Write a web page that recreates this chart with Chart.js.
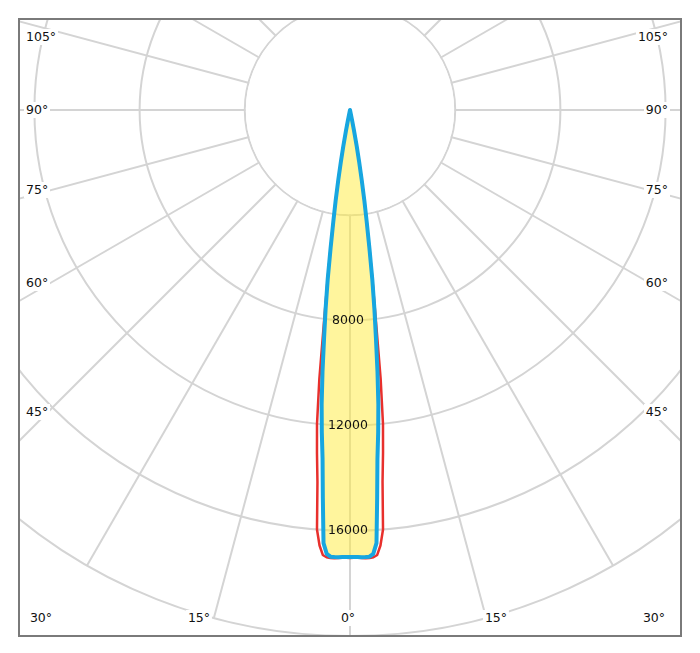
<!DOCTYPE html>
<html>
<head>
<meta charset="utf-8">
<script src="https://cdn.jsdelivr.net/npm/chart.js@4"></script>
<style>
  body { margin: 0; background: #fff; font-family: "DejaVu Sans", Verdana, sans-serif; }
  #frame {
    position: absolute; left: 18px; top: 18px; width: 664px; height: 619px;
    box-sizing: border-box; border: 2px solid #7a7a7a; overflow: hidden; background: #fff;
  }
  #polar { position: absolute; left: -196px; top: -436px; }
  .ang {
    position: absolute; font-size: 12.5px; line-height: 14px; color: #111;
    background: #fff; padding: 1px 2px; white-space: nowrap;
  }
  .bot { transform: translateX(-50%); }
</style>
</head>
<body>
<div id="frame">
  <canvas id="polar" width="1052" height="1052"></canvas>
</div>
<div id="labels"></div>
<script>
// half profile, angle from nadir in degrees (0.5 deg steps)
const halfAngles = [0, 0.5, 1, 1.5, 2, 2.5, 3, 3.5, 4, 4.5, 5, 5.5, 6, 6.5, 7, 7.5, 8, 8.5, 9, 9.5, 10, 10.5, 11, 11.5, 12, 12.5];
// C90-C270 plane (blue, filled)
const blueCd = [17000, 17000, 17000, 17010, 17010, 17000, 16900, 16500, 14800, 13300, 12300, 11250, 10000, 8700, 7600, 6500, 5300, 4300, 3500, 2700, 2000, 1400, 800, 400, 100, 0];
// C0-C180 plane (red)
const redCd = [17030, 17030, 17030, 17040, 17050, 17050, 17030, 16950, 16600, 16000, 14200, 13100, 12000, 10300, 8100, 6600, 5300, 4300, 3500, 2700, 2000, 1400, 800, 400, 100, 0];
const tickValues = [8000, 12000, 16000];
const maxCd = 20000;

// angle labels on the frame
const leftLabels = [['105°', 37], ['90°', 110], ['75°', 190], ['60°', 283], ['45°', 412]];
const bottomLabels = [['30°', 41], ['15°', 199], ['0°', 348], ['15°', 496], ['30°', 654]];

// full circle of 0.5 deg steps, symmetric about the nadir
const step = 0.5;
const labels = [];
const blueFull = [];
const redFull = [];
for (let i = 0; i < 360 / step; i++) {
    const a = i * step;
    const d = Math.min(a, 360 - a);
    const k = halfAngles.indexOf(d);
    labels.push(a + '°');
    blueFull.push(k >= 0 ? blueCd[k] : 0);
    redFull.push(k >= 0 ? redCd[k] : 0);
}

const extras = {
    id: 'extras',
    beforeDatasetsDraw(chart) {
        // no radial lines inside the first circle
        const s = chart.scales.r;
        const c = chart.ctx;
        const rr = s.getDistanceFromCenterForValue(4000);
        c.save();
        c.fillStyle = '#fff';
        c.beginPath();
        c.arc(s.xCenter, s.yCenter, rr - 1, 0, Math.PI * 2);
        c.fill();
        c.restore();
    },
    afterDatasetsDraw(chart) {
        const s = chart.scales.r;
        const c = chart.ctx;
        c.save();
        c.font = '12.5px "DejaVu Sans", Verdana, sans-serif';
        c.fillStyle = '#111';
        c.textAlign = 'center';
        c.textBaseline = 'middle';
        tickValues.forEach(v => {
            c.fillText(String(v), s.xCenter - 2, s.yCenter + s.getDistanceFromCenterForValue(v));
        });
        c.restore();
    }
};

new Chart(document.getElementById('polar'), {
    type: 'radar',
    data: {
        labels: labels,
        datasets: [{
            label: 'C90-C270',
            data: blueFull,
            borderColor: '#17a6e0',
            borderWidth: 4,
            backgroundColor: 'rgba(255, 236, 60, 0.5)',
            fill: 'origin',
            pointRadius: 0,
            borderJoinStyle: 'round',
            tension: 0
        }, {
            label: 'C0-C180',
            data: redFull,
            borderColor: '#e8302c',
            borderWidth: 2.5,
            fill: false,
            pointRadius: 0,
            borderJoinStyle: 'round',
            tension: 0
        }]
    },
    options: {
        responsive: false,
        animation: false,
        devicePixelRatio: 1,
        layout: { padding: 0 },
        plugins: {
            legend: { display: false },
            tooltip: { enabled: false }
        },
        scales: {
            r: {
                min: 0,
                max: maxCd,
                startAngle: 180,
                ticks: { stepSize: 4000, display: false },
                pointLabels: { display: false },
                grid: { circular: true, color: '#d4d4d4', lineWidth: 2 },
                angleLines: {
                    color: '#d4d4d4',
                    lineWidth: ctx => (ctx.index % 30 === 0 ? 2 : 0)
                }
            }
        }
    },
    plugins: [extras]
});

const holder = document.getElementById('labels');
leftLabels.forEach(([t, y]) => {
    const l = document.createElement('div');
    l.className = 'ang';
    l.textContent = t;
    l.style.left = '24px';
    l.style.top = (y - 8) + 'px';
    holder.appendChild(l);
    const r = document.createElement('div');
    r.className = 'ang';
    r.textContent = t;
    r.style.right = '30px';
    r.style.top = (y - 8) + 'px';
    holder.appendChild(r);
});
bottomLabels.forEach(([t, x]) => {
    const b = document.createElement('div');
    b.className = 'ang bot';
    b.textContent = t;
    b.style.left = x + 'px';
    b.style.top = (618 - 8) + 'px';
    holder.appendChild(b);
});
</script>
</body>
</html>
